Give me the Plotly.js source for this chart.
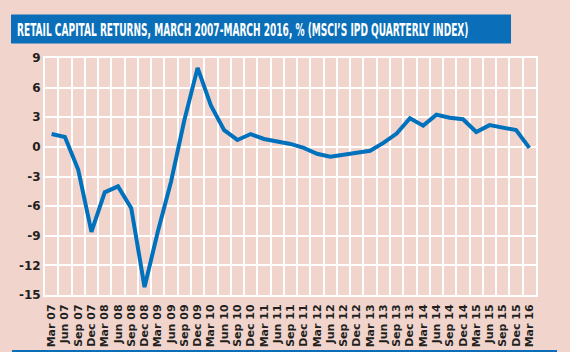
<!DOCTYPE html>
<html>
<head>
<meta charset="utf-8">
<script src="https://cdn.plot.ly/plotly-3.0.1.min.js"></script>
<style>
  html, body { margin: 0; padding: 0; background: #F1D5CD; }
  #chart { width: 570px; height: 352px; }
</style>
</head>
<body>
<div id="chart"></div>
<script>
const quarters = ["Mar 07","Jun 07","Sep 07","Dec 07","Mar 08","Jun 08","Sep 08","Dec 08",
  "Mar 09","Jun 09","Sep 09","Dec 09","Mar 10","Jun 10","Sep 10","Dec 10",
  "Mar 11","Jun 11","Sep 11","Dec 11","Mar 12","Jun 12","Sep 12","Dec 12",
  "Mar 13","Jun 13","Sep 13","Dec 13","Mar 14","Jun 14","Sep 14","Dec 14",
  "Mar 15","Jun 15","Sep 15","Dec 15","Mar 16"];
const capitalReturns = [1.3, 1.0, -2.3, -8.6, -4.6, -4.0, -6.2, -14.2,
  -8.6, -3.5, 2.7, 8.0, 4.2, 1.7, 0.7, 1.3,
  0.8, 0.55, 0.3, -0.1, -0.7, -1.0, -0.8, -0.6,
  -0.4, 0.4, 1.35, 2.9, 2.15, 3.25, 2.95, 2.8,
  1.5, 2.2, 2.0, 1.7, -0.1];
const yTicks = [-15, -12, -9, -6, -3, 0, 3, 6, 9];
const chartTitle = "RETAIL CAPITAL RETURNS, MARCH 2007-MARCH 2016, % (MSCI\u2019S IPD QUARTERLY INDEX)";

const W = 570, H = 352;
const M = {l: 45, r: 34, t: 58, b: 57};
const PW = W - M.l - M.r, PH = H - M.t - M.b;
const px2x = p => (p - M.l) / PW;
const py2y = p => (H - M.b - p) / PH;

const FONT = "'DejaVu Sans', sans-serif";
const TITLE_SIZE = 11.5;
const BLUE = "#0A6FB8";
const BG = "#F1D5CD";

const data = [{
  type: "scatter",
  mode: "lines",
  x: quarters,
  y: capitalReturns,
  line: {color: "#0071BC", width: 4, shape: "linear"},
  hoverinfo: "x+y"
}];

const layout = {
  width: W, height: H,
  margin: M,
  paper_bgcolor: BG,
  plot_bgcolor: BG,
  showlegend: false,
  font: {family: FONT, color: "#231F20", size: 12},
  xaxis: {
    type: "category",
    tickson: "boundaries",
    ticks: "",
    showgrid: true,
    gridcolor: "#FFFFFF",
    gridwidth: 2,
    showline: true,
    mirror: true,
    linecolor: "#FFFFFF",
    linewidth: 2,
    tickangle: -90,
    ticklabelstandoff: 3,
    tickfont: {family: FONT, size: 11, color: "#231F20", weight: "bold"},
    range: [-0.5, 36.5],
    fixedrange: true
  },
  yaxis: {
    range: [-15, 9],
    tickvals: yTicks,
    ticktext: yTicks.map(String),
    ticks: "",
    showgrid: true,
    gridcolor: "#FFFFFF",
    gridwidth: 2,
    zeroline: false,
    showline: true,
    mirror: true,
    linecolor: "#FFFFFF",
    linewidth: 2,
    tickfont: {family: FONT, size: 12, color: "#231F20", weight: "bold"},
    fixedrange: true
  },
  shapes: [
    {type: "rect", xref: "paper", yref: "paper",
     x0: px2x(11), x1: px2x(511), y0: py2y(43.5), y1: py2y(14.5),
     fillcolor: BLUE, line: {width: 0}, layer: "below"},
    {type: "line", xref: "paper", yref: "paper",
     x0: px2x(12), x1: px2x(557), y0: py2y(351), y1: py2y(351),
     line: {color: BLUE, width: 2}}
  ],
  annotations: [
    {xref: "paper", yref: "paper", x: px2x(16), y: py2y(29.5),
     xanchor: "left", yanchor: "middle", showarrow: false,
     text: chartTitle,
     font: {family: FONT, size: TITLE_SIZE, color: "#FFFFFF", weight: "bold"}}
  ]
};

Plotly.newPlot("chart", data, layout, {displayModeBar: false, staticPlot: true}).then(gd => {
  // condense the title glyphs to the reference's narrow, tall look
  const t = gd.querySelector(".annotation-text");
  if (!t) return;
  const bb = t.getBBox();
  const sx = 452 / bb.width;
  const sy = 13 / (0.729 * TITLE_SIZE);
  const ox = bb.x, oy = bb.y + bb.height / 2;
  const base = `translate(${ox},${oy}) scale(${sx},${sy}) translate(${-ox},${-oy})`;
  t.setAttribute("transform", base);
  const r = t.getBoundingClientRect();
  const host = gd.getBoundingClientRect();
  const dx = 17 - (r.left - host.left);
  const dy = 30 - ((r.top + r.bottom) / 2 - host.top);
  t.setAttribute("transform", `translate(${dx},${dy}) ` + base);
});
</script>
</body>
</html>
